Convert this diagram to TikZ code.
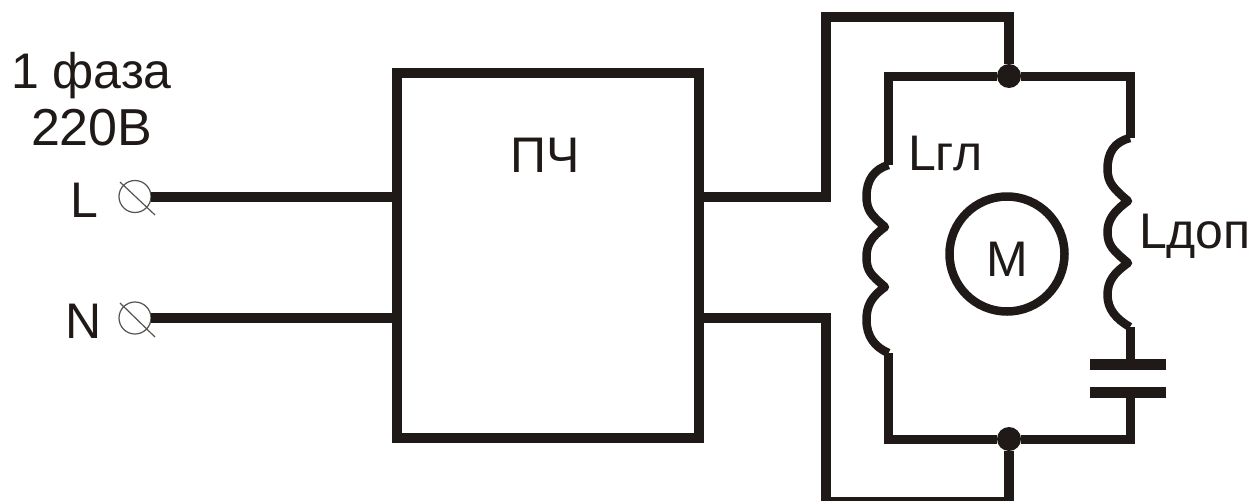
\documentclass[tikz,border=0pt]{standalone}
\usepackage{fontspec}
\setmainfont{Liberation Sans}
\definecolor{ink}{HTML}{1F1A17}
\begin{document}
\begin{tikzpicture}[x=1pt,y=-1pt,
  wire/.style={draw=ink,line width=10pt,line join=miter},
  wind/.style={draw=ink,line width=9pt,line join=miter},
  coil/.style={draw=ink,line width=8.5pt,line join=round},
  plate/.style={draw=ink,line width=11.5pt},
  lbl/.style={inner sep=0pt,outer sep=0pt,text=ink,font=\fontsize{50}{56}\selectfont},
  term/.style={circle,draw=ink!75,line width=1.2pt,minimum size=32pt,inner sep=0pt,outer sep=0pt},
  dotj/.style={circle,fill=ink,minimum size=24pt,inner sep=0pt,outer sep=0pt},
  slash/.style={draw=ink!75,line width=1.2pt}]
\useasboundingbox (0,0) rectangle (1254,501);
\fill[white] (0,0) rectangle (1254,501);
% converter
\node[wire,minimum width=302pt,minimum height=365.5pt,inner sep=0pt,outer sep=0pt] (pch) at (548,255.25) {};
\node[lbl,anchor=base] (pchl) at (545.5,172) {ПЧ};
% terminals
\node[term] (tL) at (135,196.5) {};
\node[term] (tN) at (135,318) {};
\coordinate (tLa) at (120,182); \coordinate (tLb) at (155,215);
\coordinate (tNa) at (120,303); \coordinate (tNb) at (155,337);
\draw[slash] (tLa) -- (tLb);
\draw[slash] (tNa) -- (tNb);
\coordinate (pL) at (pch.west |- tL);
\coordinate (pN) at (pch.west |- tN);
\coordinate (oL) at (pch.east |- tL);
\coordinate (oN) at (pch.east |- tN);
\draw[wire] (tL.east) -- (pL);
\draw[wire] (tN.east) -- (pN);
% junctions
\node[dotj] (jt) at (1009,76) {};
\node[dotj] (jb) at (1009,439) {};
% feeds
\coordinate (ct) at (825.5,17); \coordinate (cb) at (825.5,502);
\draw[wire] (oL) -| (ct) -| (jt);
\draw[wire] (oN) -| (cb) -| (jb);
% windings
\coordinate (tl) at (888.5,76); \coordinate (tr) at (1130,76);
\coordinate (bl) at (888.5,439); \coordinate (br) at (1130,439);
\coordinate (la) at (888.5,165); \coordinate (lb) at (885,227);
\coordinate (lc) at (885,287); \coordinate (ld) at (888.5,353);
\coordinate (ra) at (1130,138); \coordinate (rb) at (1128,201);
\coordinate (rc) at (1128,263); \coordinate (rd) at (1130,327);
\coordinate (c1) at (1130,364.5); \coordinate (c2) at (1130,392.5);
\coordinate (c1l) at (1090,364.5); \coordinate (c1r) at (1166,364.5);
\coordinate (c2l) at (1090,392.5); \coordinate (c2r) at (1166,392.5);
\draw[wind] (la) -- (tl) -- (jt) -- (tr) -- (ra);
\draw[wind] (ld) -- (bl) -- (jb) -- (br) -- (c2);
\draw[wind] (rd) -- (c1);
\draw[coil] (la) .. controls +(-14,4) and +(0,-16) .. (866.5,196) .. controls +(0,14) and +(-14,-12) .. (lb)
  .. controls +(-14,10) and +(0,-12) .. (866.5,257) .. controls +(0,14) and +(-14,-12) .. (lc)
  .. controls +(-14,10) and +(0,-14) .. (866.5,320) .. controls +(0,16) and +(-14,-6) .. (ld);
\draw[coil] (ra) .. controls +(-16,4) and +(0,-16) .. (1107.5,169) .. controls +(0,14) and +(-14,-12) .. (rb)
  .. controls +(-14,10) and +(0,-12) .. (1107.5,232) .. controls +(0,14) and +(-14,-12) .. (rc)
  .. controls +(-14,10) and +(0,-14) .. (1107.5,295) .. controls +(0,14) and +(-14,-8) .. (rd);
\draw[plate] (c1l) -- (c1r);
\draw[plate] (c2l) -- (c2r);
% motor
\node[circle,draw=ink,line width=8.5pt,minimum size=115pt,inner sep=0pt,outer sep=0pt] (m) at (1007,254) {};
\node[lbl,anchor=base] (mt) at (m |- 0,276) {M};
% labels
\node[lbl,anchor=base west] (l1) at (11,88) {1 фаза};
\node[lbl,anchor=base west,font=\fontsize{52}{56}\selectfont] (l2) at (31,145) {220В};
\node[lbl,anchor=base west] (lL) at (70,217) {L};
\node[lbl,anchor=base west] (lN) at (65,338) {N};
\node[lbl,anchor=base west] (lg) at (908,170) {Lгл};
\node[lbl,anchor=base west] (ld2) at (1139,248) {Lдоп};
\end{tikzpicture}
\end{document}
